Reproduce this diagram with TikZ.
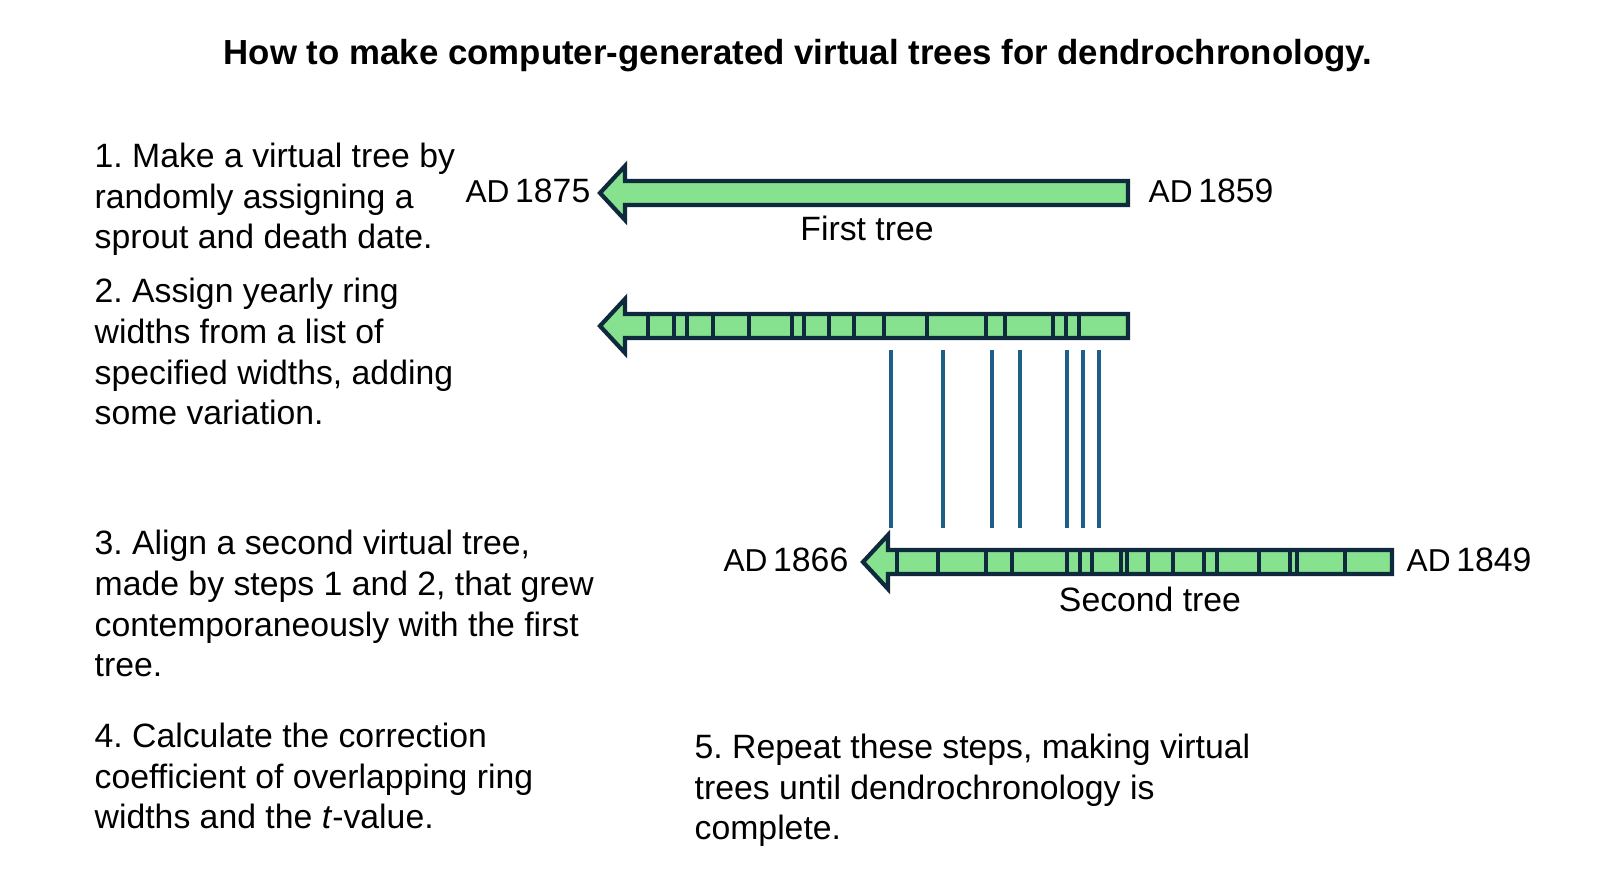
\documentclass[tikz,border=0pt]{standalone}
\usepackage{fontspec}
\setmainfont{Liberation Sans}
\frenchspacing
\definecolor{wood}{HTML}{86E28F}
\definecolor{edge}{HTML}{0F2A3D}
\definecolor{ring}{HTML}{1F5F85}
\begin{document}
\begin{tikzpicture}[x=0.01cm,y=-0.01cm,
    stp/.style={anchor=base west,align=left,inner sep=0pt,font=\fontsize{9.6}{11.6}\selectfont},
    lbl/.style={inner sep=0pt,font=\fontsize{9.6}{11.6}\selectfont},
    body/.style={fill=wood,draw=edge,line width=1.2pt,line join=miter},
    tick/.style={draw=edge,line width=0.9pt},
    match/.style={draw=ring,line width=1.2pt},
  ]
  \useasboundingbox (0,0) rectangle (1600,874);
  % arrow shape: tip x, end x, mid y
  \newcommand{\logarrow}[3]{%
    \draw[body] (#1,#3) -- (#1+25,#3-27) -- (#1+25,#3-12) -- (#2,#3-12)
      -- (#2,#3+12) -- (#1+25,#3+12) -- (#1+25,#3+27) -- cycle;}
  \node[font=\bfseries\fontsize{9.9}{12}\selectfont] (title) at (798,56) {How to make computer-generated virtual trees for dendrochronology.};
  % steps (anchored at the baseline of the last line)
  \node[stp] (s1) at (94,249) {1. Make a virtual tree by\\randomly assigning a\\sprout and death date.};
  \node[stp] (s2) at (94,425) {2. Assign yearly ring\\widths from a list of\\specified widths, adding\\some variation.};
  \node[stp] (s3) at (94,677) {3. Align a second virtual tree,\\made by steps 1 and 2, that grew\\contemporaneously with the first\\tree.};
  \node[stp] (s4) at (94,829) {4. Calculate the correction\\coefficient of overlapping ring\\widths and the \emph{t}-value.};
  \node[stp] (s5) at (694,840) {5. Repeat these steps, making virtual\\trees until dendrochronology is\\complete.};
  % first tree
  \logarrow{600}{1128}{193}
  \node[lbl,anchor=base east] (d1) at (591,203) {{\small AD}\,1875};
  \node[lbl,anchor=base west] (b1) at (1148,203) {{\small AD}\,1859};
  \node[lbl] (n1) at (867,228) {First tree};
  % rings of first tree
  \logarrow{600}{1128}{326}
  \foreach \x in {648,674,687,713,749,792,804,829,854,884,927,986,1005,1053,1066,1079}
    \draw[tick] (\x,314) -- (\x,338);
  % matching rings
  \foreach \x in {891,943,992,1020,1067,1083,1099}
    \draw[match] (\x,350) -- (\x,528);
  % second tree
  \logarrow{863}{1392}{562}
  \foreach \x in {897,938,986,1012,1067,1080,1092,1121,1127,1148,1173,1204,1217,1259,1290,1297,1345}
    \draw[tick] (\x,550) -- (\x,574);
  \node[lbl,anchor=base east] (d2) at (849,572) {{\small AD}\,1866};
  \node[lbl,anchor=base west] (b2) at (1406,572) {{\small AD}\,1849};
  \node[lbl] (n2) at (1150,599) {Second tree};
\end{tikzpicture}
\end{document}
